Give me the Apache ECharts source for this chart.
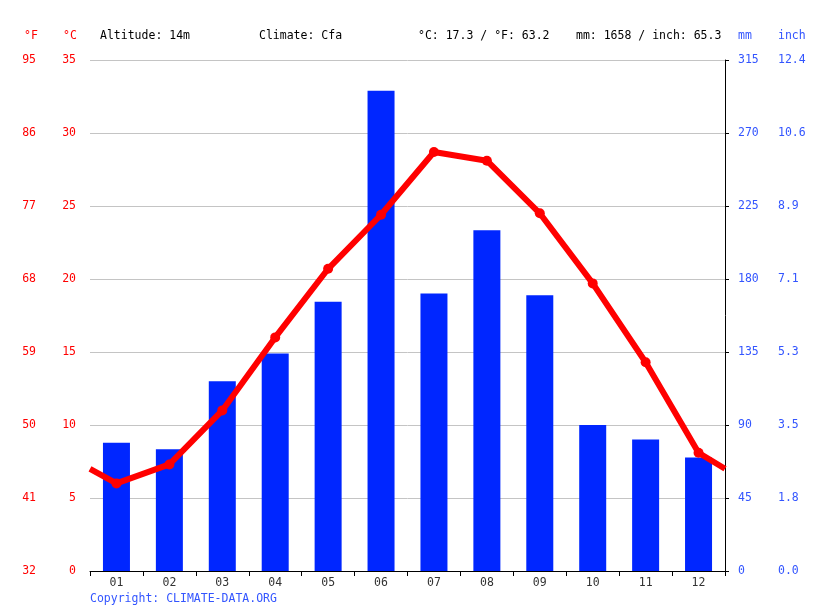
<!DOCTYPE html>
<html>
<head>
<meta charset="utf-8">
<script src="https://cdn.jsdelivr.net/npm/echarts@6/dist/echarts.min.js"></script>
<style>
    html, body { margin: 0; padding: 0; background: #fff; }
    #chart { width: 815px; height: 611px; }
</style>
</head>
<body>
<div id="chart"></div>
<script>
const months = ["01", "02", "03", "04", "05", "06", "07", "08", "09", "10", "11", "12"];
const precipMm = [79, 75, 117, 134, 166, 296, 171, 210, 170, 90, 81, 70];
const tempC = [6.0, 7.3, 11.0, 16.0, 20.7, 24.4, 28.7, 28.1, 24.5, 19.7, 14.3, 8.1];
// where the line leaves the plot on the left and right edge
const edgeTempC = [7.0, 7.0];

const fahrenheitLabels = ["32", "41", "50", "59", "68", "77", "86", "95"];
const inchLabels = ["0.0", "1.8", "3.5", "5.3", "7.1", "8.9", "10.6", "12.4"];
const headerTexts = ["Altitude: 14m", "Climate: Cfa", "°C: 17.3 / °F: 63.2", "mm: 1658 / inch: 65.3"];

const font = "DejaVu Sans Mono";
const fontSize = 11.5;
const red = "#ff0000";
const blue = "#0026ff";
const labelBlue = "#3355ff";

const lineData = [[0.5, edgeTempC[0]]];
tempC.forEach((t, i) => lineData.push([i + 1, t]));
lineData.push([12.5, edgeTempC[1]]);

function headerText(text, x, y, color) {
    return {
        type: "text",
        left: x,
        top: y,
        style: {
            text: text,
            fill: color,
            font: fontSize + "px '" + font + "'"
        }
    };
}

const headerX = [100, 259, 418, 576];

const option = {
    animation: false,
    backgroundColor: "#fff",
    textStyle: { fontFamily: font },
    grid: { left: 90, right: 90, top: 60, bottom: 40 },
    graphic: [
        ...headerTexts.map((t, i) => headerText(t, headerX[i], 30, "#000")),
        headerText("°F", 24, 30, red),
        headerText("°C", 63, 30, red),
        headerText("mm", 738, 30, labelBlue),
        headerText("inch", 778, 30, labelBlue),
        headerText("Copyright: CLIMATE-DATA.ORG", 90, 593, labelBlue)
    ],
    xAxis: [
        {
            type: "category",
            data: months,
            boundaryGap: true,
            axisLine: { lineStyle: { color: "#000", width: 1 } },
            axisTick: { show: true, length: 5, lineStyle: { color: "#000" } },
            axisLabel: { color: "#333", fontSize: fontSize, fontFamily: font, margin: 6 },
            splitLine: { show: false }
        },
        {
            type: "value",
            min: 0.5,
            max: 12.5,
            show: false
        }
    ],
    yAxis: [
        {
            // °C
            type: "value",
            min: 0,
            max: 35,
            interval: 5,
            position: "left",
            axisLine: { show: false },
            axisTick: { show: false },
            axisLabel: { color: red, fontSize: fontSize, fontFamily: font, margin: 14 },
            splitLine: { show: true, lineStyle: { color: "#c4c4c4", width: 1 } }
        },
        {
            // °F
            type: "value",
            min: 0,
            max: 35,
            interval: 5,
            position: "left",
            offset: 40,
            axisLine: { show: false },
            axisTick: { show: false },
            axisLabel: {
                color: red, fontSize: fontSize, fontFamily: font, margin: 14,
                formatter: (v) => fahrenheitLabels[Math.round(v / 5)]
            },
            splitLine: { show: false }
        },
        {
            // mm
            type: "value",
            min: 0,
            max: 315,
            interval: 45,
            position: "right",
            axisLine: { show: true, lineStyle: { color: "#000", width: 1 } },
            axisTick: { show: true, length: 4, lineStyle: { color: "#000" } },
            axisLabel: { color: labelBlue, fontSize: fontSize, fontFamily: font, margin: 13 },
            splitLine: { show: false }
        },
        {
            // inch
            type: "value",
            min: 0,
            max: 315,
            interval: 45,
            position: "right",
            offset: 53,
            axisLine: { show: false },
            axisTick: { show: false },
            axisLabel: {
                color: labelBlue, fontSize: fontSize, fontFamily: font, margin: 0,
                formatter: (v) => inchLabels[Math.round(v / 45)]
            },
            splitLine: { show: false }
        }
    ],
    series: [
        {
            name: "precipitation",
            type: "bar",
            xAxisIndex: 0,
            yAxisIndex: 2,
            data: precipMm,
            barWidth: 27,
            itemStyle: { color: blue },
            z: 2
        },
        {
            name: "temperature",
            type: "line",
            xAxisIndex: 1,
            yAxisIndex: 0,
            data: lineData,
            clip: true,
            symbol: "circle",
            symbolSize: (val, params) => (params.dataIndex === 0 || params.dataIndex === lineData.length - 1) ? 0 : 10,
            lineStyle: { color: red, width: 6 },
            itemStyle: { color: red },
            z: 3
        }
    ]
};

const chart = echarts.init(document.getElementById("chart"));
chart.setOption(option);
</script>
</body>
</html>
